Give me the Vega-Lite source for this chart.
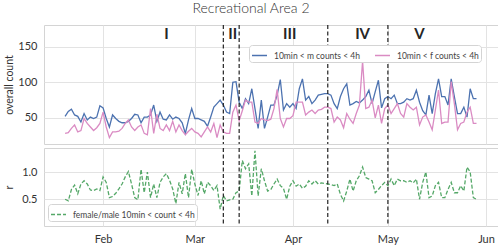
{
  "$schema": "https://vega.github.io/schema/vega-lite/v6.json",
  "padding": {"left": 3, "top": 1, "right": 1, "bottom": 0},
  "background": "white",
  "title": {"text": "Recreational Area 2", "fontSize": 14, "font": "Lato", "fontWeight": 300, "color": "#333333", "offset": 8, "anchor": "middle"},
  "config": {
    "font": "Lato",
    "view": {"stroke": "#d4d4d4", "strokeWidth": 1},
    "axis": {"gridColor": "#e3e3e3", "gridWidth": 1, "domain": false, "ticks": false, "labelFontSize": 11, "labelColor": "#333333", "titleFontSize": 10.5, "titleFontWeight": "normal", "titleColor": "#333333", "labelPadding": 7, "labelFont": "Lato", "titleFont": "Lato"},
    "legend": {"labelFont": "Lato", "labelColor": "#444444", "labelFontSize": 9}
  },
  "datasets": {
    "main": [
      {"date": "2020-01-20", "m": 52, "f": 28, "r": 0.50},
      {"date": "2020-01-21", "m": 59, "f": 29, "r": 0.47},
      {"date": "2020-01-22", "m": 62, "f": 35, "r": 0.68},
      {"date": "2020-01-23", "m": 54, "f": 40, "r": 0.76},
      {"date": "2020-01-24", "m": 52, "f": 30, "r": 0.60},
      {"date": "2020-01-25", "m": 44, "f": 32, "r": 0.78},
      {"date": "2020-01-26", "m": 56, "f": 49, "r": 0.84},
      {"date": "2020-01-27", "m": 47, "f": 42, "r": 0.78},
      {"date": "2020-01-28", "m": 51, "f": 37, "r": 0.67},
      {"date": "2020-01-29", "m": 49, "f": 32, "r": 0.66},
      {"date": "2020-01-30", "m": 51, "f": 36, "r": 0.69},
      {"date": "2020-01-31", "m": 67, "f": 42, "r": 0.66},
      {"date": "2020-02-01", "m": 64, "f": 58, "r": 0.91},
      {"date": "2020-02-02", "m": 49, "f": 37, "r": 0.81},
      {"date": "2020-02-03", "m": 37, "f": 22, "r": 0.53},
      {"date": "2020-02-04", "m": 54, "f": 30, "r": 0.55},
      {"date": "2020-02-05", "m": 49, "f": 30, "r": 0.61},
      {"date": "2020-02-06", "m": 45, "f": 31, "r": 0.69},
      {"date": "2020-02-07", "m": 43, "f": 35, "r": 0.78},
      {"date": "2020-02-08", "m": 43, "f": 42, "r": 0.91},
      {"date": "2020-02-09", "m": 45, "f": 47, "r": 1.01},
      {"date": "2020-02-10", "m": 49, "f": 37, "r": 0.78},
      {"date": "2020-02-11", "m": 55, "f": 32, "r": 0.53},
      {"date": "2020-02-12", "m": 54, "f": 37, "r": 0.49},
      {"date": "2020-02-13", "m": 43, "f": 40, "r": 1.05},
      {"date": "2020-02-14", "m": 51, "f": 28, "r": 0.62},
      {"date": "2020-02-15", "m": 51, "f": 26, "r": 1.00},
      {"date": "2020-02-16", "m": 54, "f": 63, "r": 0.53},
      {"date": "2020-02-17", "m": 68, "f": 28, "r": 0.78},
      {"date": "2020-02-18", "m": 45, "f": 55, "r": 0.53},
      {"date": "2020-02-19", "m": 58, "f": 35, "r": 0.81},
      {"date": "2020-02-20", "m": 48, "f": 32, "r": 0.91},
      {"date": "2020-02-21", "m": 47, "f": 40, "r": 0.97},
      {"date": "2020-02-22", "m": 54, "f": 32, "r": 0.85},
      {"date": "2020-02-23", "m": 48, "f": 45, "r": 0.69},
      {"date": "2020-02-24", "m": 51, "f": 30, "r": 0.42},
      {"date": "2020-02-25", "m": 49, "f": 40, "r": 0.81},
      {"date": "2020-02-26", "m": 43, "f": 32, "r": 0.60},
      {"date": "2020-02-27", "m": 28, "f": 26, "r": 0.97},
      {"date": "2020-02-28", "m": 47, "f": 31, "r": 0.53},
      {"date": "2020-02-29", "m": 63, "f": 35, "r": 1.05},
      {"date": "2020-03-01", "m": 49, "f": 30, "r": 0.78},
      {"date": "2020-03-02", "m": 49, "f": 28, "r": 0.57},
      {"date": "2020-03-03", "m": 47, "f": 23, "r": 0.84},
      {"date": "2020-03-04", "m": 45, "f": 30, "r": 0.60},
      {"date": "2020-03-05", "m": 38, "f": 37, "r": 0.81},
      {"date": "2020-03-06", "m": 51, "f": 30, "r": 0.75},
      {"date": "2020-03-07", "m": 65, "f": 42, "r": 0.66},
      {"date": "2020-03-08", "m": 70, "f": 22, "r": 0.75},
      {"date": "2020-03-09", "m": 75, "f": 40, "r": 0.32},
      {"date": "2020-03-10", "m": 68, "f": 30, "r": 0.57},
      {"date": "2020-03-11", "m": 58, "f": 28, "r": 0.47},
      {"date": "2020-03-12", "m": 56, "f": 28, "r": 0.49},
      {"date": "2020-03-13", "m": 100, "f": 58, "r": 0.50},
      {"date": "2020-03-14", "m": 101, "f": 68, "r": 0.62},
      {"date": "2020-03-15", "m": 72, "f": 46, "r": 0.65},
      {"date": "2020-03-16", "m": 63, "f": 60, "r": 1.21},
      {"date": "2020-03-17", "m": 77, "f": 75, "r": 1.06},
      {"date": "2020-03-18", "m": 70, "f": 72, "r": 1.15},
      {"date": "2020-03-19", "m": 91, "f": 72, "r": 0.56},
      {"date": "2020-03-20", "m": 63, "f": 44, "r": 1.39},
      {"date": "2020-03-21", "m": 35, "f": 42, "r": 0.56},
      {"date": "2020-03-22", "m": 75, "f": 49, "r": 1.06},
      {"date": "2020-03-23", "m": 35, "f": 47, "r": 0.84},
      {"date": "2020-03-24", "m": 51, "f": 46, "r": 0.65},
      {"date": "2020-03-25", "m": 68, "f": 48, "r": 0.68},
      {"date": "2020-03-26", "m": 68, "f": 63, "r": 0.78},
      {"date": "2020-03-27", "m": 82, "f": 90, "r": 0.87},
      {"date": "2020-03-28", "m": 104, "f": 49, "r": 0.75},
      {"date": "2020-03-29", "m": 61, "f": 37, "r": 0.70},
      {"date": "2020-03-30", "m": 70, "f": 49, "r": 0.50},
      {"date": "2020-03-31", "m": 65, "f": 49, "r": 0.74},
      {"date": "2020-04-01", "m": 70, "f": 53, "r": 0.84},
      {"date": "2020-04-02", "m": 63, "f": 72, "r": 0.74},
      {"date": "2020-04-03", "m": 91, "f": 72, "r": 0.78},
      {"date": "2020-04-04", "m": 105, "f": 72, "r": 0.70},
      {"date": "2020-04-05", "m": 75, "f": 54, "r": 0.74},
      {"date": "2020-04-06", "m": 80, "f": 58, "r": 0.84},
      {"date": "2020-04-07", "m": 70, "f": 61, "r": 0.78},
      {"date": "2020-04-08", "m": 75, "f": 56, "r": 0.84},
      {"date": "2020-04-09", "m": 82, "f": 61, "r": 0.78},
      {"date": "2020-04-10", "m": 83, "f": 62, "r": 0.80},
      {"date": "2020-04-11", "m": 84, "f": 65, "r": 0.79},
      {"date": "2020-04-12", "m": 84, "f": 65, "r": 0.78},
      {"date": "2020-04-13", "m": 82, "f": 63, "r": 0.77},
      {"date": "2020-04-14", "m": 70, "f": 44, "r": 0.75},
      {"date": "2020-04-15", "m": 63, "f": 51, "r": 0.78},
      {"date": "2020-04-16", "m": 80, "f": 47, "r": 0.59},
      {"date": "2020-04-17", "m": 91, "f": 36, "r": 0.47},
      {"date": "2020-04-18", "m": 98, "f": 56, "r": 0.65},
      {"date": "2020-04-19", "m": 68, "f": 48, "r": 0.87},
      {"date": "2020-04-20", "m": 70, "f": 42, "r": 0.65},
      {"date": "2020-04-21", "m": 73, "f": 56, "r": 0.84},
      {"date": "2020-04-22", "m": 71, "f": 68, "r": 0.93},
      {"date": "2020-04-23", "m": 75, "f": 130, "r": 1.09},
      {"date": "2020-04-24", "m": 80, "f": 63, "r": 0.90},
      {"date": "2020-04-25", "m": 89, "f": 65, "r": 0.87},
      {"date": "2020-04-26", "m": 70, "f": 75, "r": 0.84},
      {"date": "2020-04-27", "m": 87, "f": 50, "r": 0.62},
      {"date": "2020-04-28", "m": 103, "f": 68, "r": 0.68},
      {"date": "2020-04-29", "m": 64, "f": 42, "r": 0.75},
      {"date": "2020-04-30", "m": 77, "f": 63, "r": 0.81},
      {"date": "2020-05-01", "m": 80, "f": 68, "r": 0.75},
      {"date": "2020-05-02", "m": 77, "f": 56, "r": 0.87},
      {"date": "2020-05-03", "m": 82, "f": 63, "r": 0.75},
      {"date": "2020-05-04", "m": 70, "f": 70, "r": 0.87},
      {"date": "2020-05-05", "m": 70, "f": 56, "r": 0.84},
      {"date": "2020-05-06", "m": 72, "f": 51, "r": 0.84},
      {"date": "2020-05-07", "m": 77, "f": 70, "r": 0.81},
      {"date": "2020-05-08", "m": 75, "f": 65, "r": 0.84},
      {"date": "2020-05-09", "m": 77, "f": 61, "r": 0.80},
      {"date": "2020-05-10", "m": 89, "f": 65, "r": 0.87},
      {"date": "2020-05-11", "m": 72, "f": 40, "r": 0.50},
      {"date": "2020-05-12", "m": 60, "f": 51, "r": 0.81},
      {"date": "2020-05-13", "m": 54, "f": 54, "r": 1.00},
      {"date": "2020-05-14", "m": 82, "f": 44, "r": 0.53},
      {"date": "2020-05-15", "m": 56, "f": 33, "r": 0.56},
      {"date": "2020-05-16", "m": 84, "f": 61, "r": 0.75},
      {"date": "2020-05-17", "m": 105, "f": 89, "r": 0.81},
      {"date": "2020-05-18", "m": 80, "f": 42, "r": 0.53},
      {"date": "2020-05-19", "m": 80, "f": 44, "r": 0.53},
      {"date": "2020-05-20", "m": 68, "f": 44, "r": 0.68},
      {"date": "2020-05-21", "m": 105, "f": 101, "r": 0.81},
      {"date": "2020-05-22", "m": 80, "f": 70, "r": 0.62},
      {"date": "2020-05-23", "m": 56, "f": 33, "r": 0.62},
      {"date": "2020-05-24", "m": 56, "f": 42, "r": 0.75},
      {"date": "2020-05-25", "m": 65, "f": 44, "r": 0.65},
      {"date": "2020-05-26", "m": 51, "f": 58, "r": 1.09},
      {"date": "2020-05-27", "m": 91, "f": 65, "r": 1.00},
      {"date": "2020-05-28", "m": 77, "f": 42, "r": 0.53},
      {"date": "2020-05-29", "m": 77, "f": 42, "r": 0.50}
    ],
    "vlines": [
      {"date": "2020-03-10"},
      {"date": "2020-03-15"},
      {"date": "2020-04-12"},
      {"date": "2020-05-01"}
    ],
    "phases": [
      {"label": "I", "date": "2020-02-21", "y": 168},
      {"label": "II", "date": "2020-03-13", "y": 168},
      {"label": "III", "date": "2020-03-31", "y": 168},
      {"label": "IV", "date": "2020-04-23", "y": 168},
      {"label": "V", "date": "2020-05-11", "y": 168}
    ]
  },
  "spacing": 0,
  "resolve": {"scale": {"color": "independent"}, "legend": {"color": "independent"}},
  "vconcat": [
    {
      "width": 454,
      "height": 119,
      "layer": [
        {
          "data": {"name": "main"},
          "transform": [{"fold": ["m", "f"], "as": ["series", "count"]}],
          "mark": {"type": "line", "strokeWidth": 1.3},
          "encoding": {
            "x": {"field": "date", "type": "temporal",
                  "scale": {"type": "utc", "domain": [{"year": 2020, "month": 1, "date": 13, "hours": 8, "utc": true}, {"year": 2020, "month": 6, "date": 4, "hours": 19, "utc": true}]},
                  "axis": {"labels": false, "title": null, "labelPadding": 0, "tickCount": {"interval": "month", "step": 1}}},
            "y": {"field": "count", "type": "quantitative",
                  "scale": {"domain": [13, 181], "nice": false, "zero": false},
                  "axis": {"title": "overall count", "values": [50, 100, 150], "titleX": -30}},
            "color": {"field": "series", "type": "nominal",
                      "scale": {"domain": ["m", "f"], "range": ["#4c72b0", "#da8bc3"]},
                      "legend": {"orient": "none", "legendX": 205, "legendY": 20, "direction": "horizontal", "title": null,
                                 "symbolType": "stroke", "symbolStrokeWidth": 1.5, "symbolSize": 225,
                                 "fillColor": "white", "strokeColor": "#d4d4d4", "cornerRadius": 3, "padding": 2,
                                 "columnPadding": 12, "labelFontSize": 8.5, "labelOffset": 6,
                                 "labelExpr": "datum.label == 'm' ? '10min < m counts < 4h' : '10min < f counts < 4h'"}}
          }
        },
        {
          "data": {"name": "vlines"},
          "mark": {"type": "rule", "color": "#222222", "strokeDash": [4, 2.5], "strokeWidth": 1.2},
          "encoding": {"x": {"field": "date", "type": "temporal"}}
        },
        {
          "data": {"name": "phases"},
          "mark": {"type": "text", "fontSize": 15, "fontWeight": "bold", "color": "#262626", "font": "Lato", "baseline": "middle", "align": "center"},
          "encoding": {
            "x": {"field": "date", "type": "temporal"},
            "y": {"field": "y", "type": "quantitative"},
            "text": {"field": "label"}
          }
        }
      ]
    },
    {
      "width": 454,
      "height": 78,
      "layer": [
        {
          "data": {"name": "main"},
          "mark": {"type": "line", "strokeWidth": 1.3, "strokeDash": [4, 2]},
          "encoding": {
            "x": {"field": "date", "type": "temporal",
                  "scale": {"type": "utc", "domain": [{"year": 2020, "month": 1, "date": 13, "hours": 8, "utc": true}, {"year": 2020, "month": 6, "date": 4, "hours": 19, "utc": true}]},
                  "axis": {"format": "%b", "title": null, "tickCount": {"interval": "month", "step": 1}}},
            "y": {"field": "r", "type": "quantitative",
                  "scale": {"domain": [0.01, 1.44], "nice": false, "zero": false},
                  "axis": {"title": "r", "values": [0.5, 1.0], "format": ".1f", "titleX": -30}},
            "color": {"datum": "female/male 10min < count < 4h", "type": "nominal",
                      "scale": {"range": ["#55a868"]},
                      "legend": {"orient": "none", "legendX": 4, "legendY": 56, "title": null,
                                 "symbolType": "stroke", "symbolStrokeWidth": 1.5, "symbolSize": 225, "symbolDash": [4, 2],
                                 "fillColor": "white", "strokeColor": "#d4d4d4", "cornerRadius": 3, "padding": 2, "labelFontSize": 8.5, "labelOffset": 6}}
          }
        },
        {
          "data": {"name": "vlines"},
          "mark": {"type": "rule", "color": "#222222", "strokeDash": [4, 2.5], "strokeWidth": 1.2},
          "encoding": {"x": {"field": "date", "type": "temporal"}}
        }
      ]
    }
  ]
}
